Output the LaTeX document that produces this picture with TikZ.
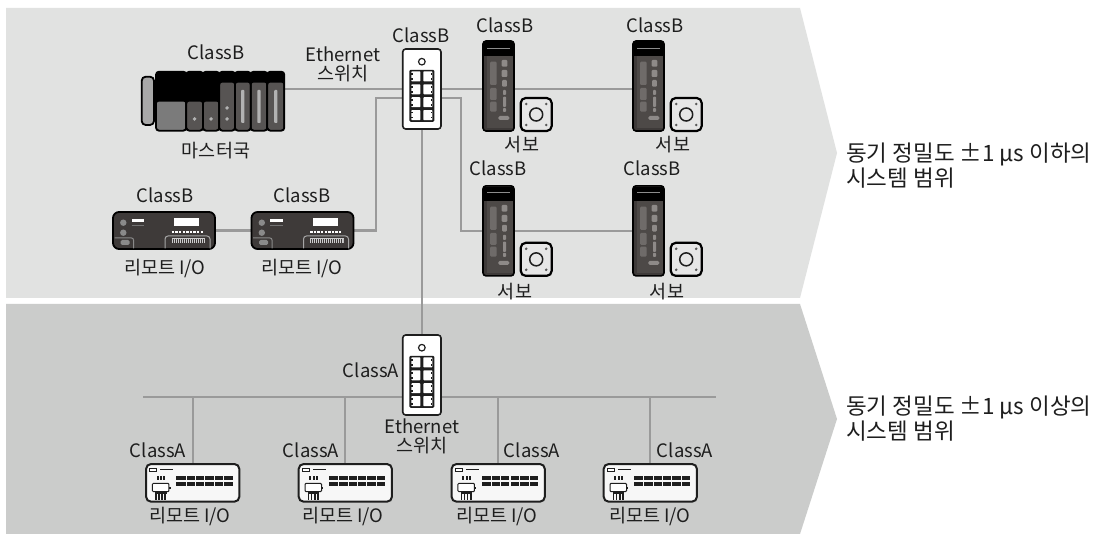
\documentclass[tikz,border=0pt]{standalone}
\usepackage{fontspec}
\setmainfont{Noto Sans CJK KR}
\usetikzlibrary{calc}
\pgfdeclarelayer{bands}
\pgfdeclarelayer{wires}
\pgfsetlayers{bands,wires,main}

\definecolor{bandA}{HTML}{E1E2E1}
\definecolor{bandB}{HTML}{CBCCCB}
\definecolor{wire}{HTML}{9A9A9A}
\definecolor{body}{HTML}{3E3A39}
\definecolor{panel}{HTML}{4D4947}
\definecolor{lamp}{HTML}{6F6B69}
\definecolor{led}{HTML}{8E8A88}
\definecolor{ink}{HTML}{1E1E1E}
\definecolor{modgray}{HTML}{575453}
\definecolor{modlight}{HTML}{7B7B7B}
\definecolor{battery}{HTML}{A8A8A8}
\definecolor{motorface}{HTML}{E6E6E6}
\definecolor{trim}{HTML}{8A8A8A}
\definecolor{whitebox}{HTML}{F7F7F7}

\tikzset{
  link/.style={draw=wire, line width=2.2},
  lbl/.style={font=\fontsize{18.5}{19.5}\selectfont, text=ink, inner sep=0, align=center},
  note/.style={font=\fontsize{22.5}{25}\selectfont, text=ink, align=left, inner sep=0, anchor=west},
  swbox/.style={draw=ink, fill=white, line width=1.6, rounded corners=3,
    minimum width=38.3, minimum height=80, inner sep=0},
  drivebox/.style={draw=black, fill=body, line width=1.6, rounded corners=3,
    minimum width=31, minimum height=90, inner sep=0},
  motorbox/.style={draw=black, fill=motorface, line width=2.2, rounded corners=5,
    minimum width=31, minimum height=33, inner sep=0},
  rioB/.style={draw=black, fill=body, line width=1.8, rounded corners=6,
    minimum width=102, minimum height=37, inner sep=0},
  rioA/.style={draw=ink, fill=whitebox, line width=2, rounded corners=5,
    minimum width=93.3, minimum height=37.7, inner sep=0},
  % switch front: status lamp and 2x4 RJ45 ports
  pics/swports/.style={code={
    \draw[draw=ink, line width=1.2, fill=white] (0,-27.3) circle (3.3pt);
    \fill[ink, rounded corners=1.2] (-12.5,-19.2) rectangle (12.5,32.8);
    \foreach \cy in {-12.6,0.3,13.2,26.1}{
      \fill[white, rounded corners=0.8] (-10.6,\cy-5) rectangle (-1.4,\cy+5);
      \fill[white, rounded corners=0.8] (1.4,\cy-5) rectangle (10.6,\cy+5);
      \fill[ink] (-10.6,\cy-3.4) rectangle (-9.2,\cy-1.6);
      \fill[ink] (-10.6,\cy+1.6) rectangle (-9.2,\cy+3.4);
      \fill[ink] (9.2,\cy-3.4) rectangle (10.6,\cy-1.6);
      \fill[ink] (9.2,\cy+1.6) rectangle (10.6,\cy+3.4);
    }
  }},
  % servo amplifier front panel
  pics/drivepanel/.style={code={
    \fill[black] (-14.6,-44.1) rectangle (14.6,-30);
    \draw[black!45, line width=0.8] (-11.5,-38) -- (11.5,-38);
    \fill[panel] (-11.2,-30) rectangle (14.2,42.3);
    \fill[lamp, rounded corners=1.2] (-8.5,-24.3) rectangle (-1.8,-1);
    \fill[lamp, rounded corners=1.2] (-8.5,2) rectangle (-1.8,14);
    \fill[lamp, rounded corners=1.2] (-8.5,15.7) rectangle (-1.8,25.7);
    \fill[led, rounded corners=1] (3.2,-26) rectangle (8.8,-19.3);
    \fill[led, rounded corners=1] (3.2,-16) rectangle (8.8,-9);
    \fill[led, rounded corners=1] (3.6,-6) rectangle (8.4,0.7);
    \fill[led, rounded corners=0.8] (4.5,4) rectangle (7.5,9);
    \fill[led, rounded corners=0.8] (4.5,10.7) rectangle (7.5,21);
    \fill[led, rounded corners=0.8] (4.5,22) rectangle (7.5,26);
    \fill[led, rounded corners=1.5] (-0.2,30) rectangle (10.8,34);
  }},
  % servo motor flange
  pics/motorflange/.style={code={
    \draw[draw=ink, line width=1.5, fill=motorface] (0,0) circle (6.5pt);
    \foreach \px/\py in {-10/-10.5,10/-10.5,-10/10.5,10/10.5}
      \fill[black!65] (\px,\py) circle (1.4pt);
  }},
  % dark remote I/O unit
  pics/riodark/.style={code={
    \fill[trim] (-40.7,-7.8) circle (3.2pt);
    \fill[trim] (-40.7,2.2) circle (3.2pt);
    \fill[white] (-32.3,-11.5) rectangle (-19.7,-8.5);
    \draw[black!55, line width=0.5] (-32.3,-4.8) -- (-19.7,-4.8);
    \draw[trim, line width=1, rounded corners=2] (-49.5,7.5) -- (-30.5,7.5) -- (-30.5,17.8);
    \fill[trim, rounded corners=1.5] (-43.3,9.5) rectangle (-34.5,14.5);
    \fill[white] (10,-12.2) rectangle (35,-4.8);
    \draw[white, line width=2.6, dash pattern=on 2.4 off 1.2] (7.7,1.5) -- (39.3,1.5);
    \draw[black!35, line width=1, rounded corners=3] (1,17.8) -- (1,5.5) -- (46,5.5) -- (46,17.8);
    \fill[black!20] (7.7,7.8) rectangle (41,12.8);
    \draw[body, line width=4, dash pattern=on 0.7 off 1.3] (8.5,10.3) -- (40.5,10.3);
  }},
  % light remote I/O unit
  pics/riolight/.style={code={
    \draw[ink, line width=0.8, fill=white] (-43.3,-14.5) rectangle (-36,-11.8);
    \fill[ink] (-32.7,-13.8) rectangle (-19.3,-12.5);
    \foreach \sx in {-36,-32.7,-29.4}
      \fill[ink] (\sx,-6.5) rectangle (\sx+2.1,-2.8);
    \foreach \ry in {-6.8,-0.5}{
      \fill[ink] (-16.6,\ry) rectangle (40,\ry+3.7);
      \foreach \gx in {-7.2,2.2,21,30.4}
        \fill[whitebox] (\gx,\ry) rectangle (\gx+0.8,\ry+3.7);
      \fill[whitebox] (11.2,\ry) rectangle (12.6,\ry+3.7);
    }
    \draw[ink, line width=1, fill=white, rounded corners=1] (-40.3,0.5) rectangle (-23.8,8.8);
    \fill[ink] (-23.8,4) rectangle (-22.2,6.5);
    \fill[ink] (-37.6,8.8) rectangle (-26.2,11);
    \foreach \pxx in {-37.6,-34.5,-31.4,-28.3}
      \fill[ink] (\pxx,11) rectangle (\pxx+1.6,16.8);
  }},
}

\begin{document}
\begin{tikzpicture}[x=1pt, y=-1pt]
\useasboundingbox (0,0) rectangle (1097,534);

% ---- background bands ----
\begin{pgfonlayer}{bands}
  \fill[white] (0,0) rectangle (1097,534);
  \fill[bandA] (6,8) -- (800,8) -- (837,153) -- (800,298) -- (6,298) -- cycle;
  \fill[bandB] (6,304) -- (800,304) -- (837,419) -- (800,534) -- (6,534) -- cycle;
\end{pgfonlayer}

% ---- master station (PLC rack) ----
\node[inner sep=0, minimum width=129, minimum height=59] (master) at (220.2,101.2) {};
\draw[black, fill=battery, line width=1.8, rounded corners=4] (141.7,76.7) rectangle (154,125);
\foreach \xa/\xb/\yt/\col in {156/186.3/101.7/modlight, 186.3/203/101.7/modgray,
    203/219.3/101.7/modgray, 219.3/235/82.7/modgray, 235/250.7/82.7/modgray,
    250.7/267.3/82.7/modgray, 267.3/284.3/82.7/modgray}{
  \fill[black, rounded corners=3] (\xa,71.7) rectangle (\xb,130.7);
  \fill[\col, rounded corners=2] (\xa+0.9,\yt) rectangle (\xb-0.9,129.8);
  \draw[black, line width=1.8, rounded corners=3] (\xa,71.7) rectangle (\xb,130.7);
}
\foreach \dx/\dy in {194.6/119, 211.1/119, 227.1/108, 227.1/119}
  \fill[black!30] (\dx,\dy) circle (1.9pt);
\foreach \bx in {242.8, 259, 275.8}
  \fill[black!30, rounded corners=0.8] (\bx-1.6,90) rectangle (\bx+1.6,123);

% ---- Ethernet switches ----
\node[swbox] (sw1) at (421.85,89) {};
\pic at (sw1.center) {swports};
\node[swbox] (sw2) at (421.85,375) {};
\pic at (sw2.center) {swports};

% ---- servo amplifiers and motors ----
\node[drivebox] (sv1) at (498.5,86) {};
\pic at (sv1.center) {drivepanel};
\node[motorbox] (m1) at (536.2,114.5) {};
\pic at (m1.center) {motorflange};
\node[drivebox] (sv2) at (648.5,86) {};
\pic at (sv2.center) {drivepanel};
\node[motorbox] (m2) at (686.2,114.5) {};
\pic at (m2.center) {motorflange};
\node[drivebox] (sv3) at (498.5,230.85) {};
\pic at (sv3.center) {drivepanel};
\node[motorbox] (m3) at (536.2,259.35) {};
\pic at (m3.center) {motorflange};
\node[drivebox] (sv4) at (648.5,230.85) {};
\pic at (sv4.center) {drivepanel};
\node[motorbox] (m4) at (686.2,259.35) {};
\pic at (m4.center) {motorflange};

% ---- remote I/O (class B) ----
\node[rioB] (rB1) at (164,230.5) {};
\pic at (rB1.center) {riodark};
\node[rioB] (rB2) at (302.5,230.5) {};
\pic at (rB2.center) {riodark};

% ---- remote I/O (class A) ----
\node[rioA] (rA1) at (192.7,482.85) {};
\pic at (rA1.center) {riolight};
\node[rioA] (rA2) at (345.3,482.85) {};
\pic at (rA2.center) {riolight};
\node[rioA] (rA3) at (498.2,482.85) {};
\pic at (rA3.center) {riolight};
\node[rioA] (rA4) at (650.3,482.85) {};
\pic at (rA4.center) {riolight};

% ---- cabling ----
\coordinate (busL) at (143,397.3);
\coordinate (busR) at (716,397.3);
\coordinate (sw1L) at ($(sw1.west)+(0,8.7)$);
\coordinate (sw1R) at ($(sw1.east)+(0,8.7)$);
\begin{pgfonlayer}{wires}
  \draw[link] (master.east |- sw1.west) -- (sw1.west);
  \draw[link] (rB1.east) -- (rB2.west);
  \draw[link] (rB2.east) -| ($(sw1L)+(-25.7,0)$) -- (sw1L);
  \draw[link] (sw1.east) -- (sw1.east -| sv2.west);
  \draw[link] (sw1R) -| ($(sv3.west)+(-21.3,0)$) -- (sv4.west);
  \draw[link] (sw1.south) -- (sw2.north);
  \draw[link] (busL) -- (busR);
  \foreach \d in {rA1,rA2,rA3,rA4}
    \draw[link] (\d.north) -- (\d.north |- busL);
\end{pgfonlayer}

% ---- labels ----
\node[lbl] (tMasterCls) at (216,52) {ClassB};
\node[lbl] (tMaster) at (216,151) {마스터국};
\node[lbl] (tSw1) at (343,64.5) {Ethernet\\스위치};
\node[lbl] (tSw1Cls) at (421,35) {ClassB};
\node[lbl] (tSv1Cls) at (505,25) {ClassB};
\node[lbl] (tSv1) at (522,145) {서보};
\node[lbl] (tSv2Cls) at (655,25) {ClassB};
\node[lbl] (tSv2) at (673,145) {서보};
\node[lbl] (tSv3Cls) at (498,168) {ClassB};
\node[lbl] (tSv3) at (515,292) {서보};
\node[lbl] (tSv4Cls) at (652,168) {ClassB};
\node[lbl] (tSv4) at (667,292) {서보};
\node[lbl] (tRB1Cls) at (165,195) {ClassB};
\node[lbl] (tRB1) at (165,269) {리모트 I/O};
\node[lbl] (tRB2Cls) at (302,195) {ClassB};
\node[lbl] (tRB2) at (302,269) {리모트 I/O};
\node[lbl] (tSw2Cls) at (371,370) {ClassA};
\node[lbl] (tSw2) at (422,436.5) {Ethernet\\스위치};
\node[lbl] (tRA1Cls) at (158,450) {ClassA};
\node[lbl] (tRA2Cls) at (311,450) {ClassA};
\node[lbl] (tRA3Cls) at (532,450) {ClassA};
\node[lbl] (tRA4Cls) at (685,450) {ClassA};
\node[lbl] (tRA1) at (190,517) {리모트 I/O};
\node[lbl] (tRA2) at (343,517) {리모트 I/O};
\node[lbl] (tRA3) at (497,517) {리모트 I/O};
\node[lbl] (tRA4) at (650,517) {리모트 I/O};

\node[note] (scopeFine) at (846,165.5) {동기 정밀도 ±1 μs 이하의\\시스템 범위};
\node[note] (scopeCoarse) at (846,419) {동기 정밀도 ±1 μs 이상의\\시스템 범위};
\end{tikzpicture}
\end{document}
